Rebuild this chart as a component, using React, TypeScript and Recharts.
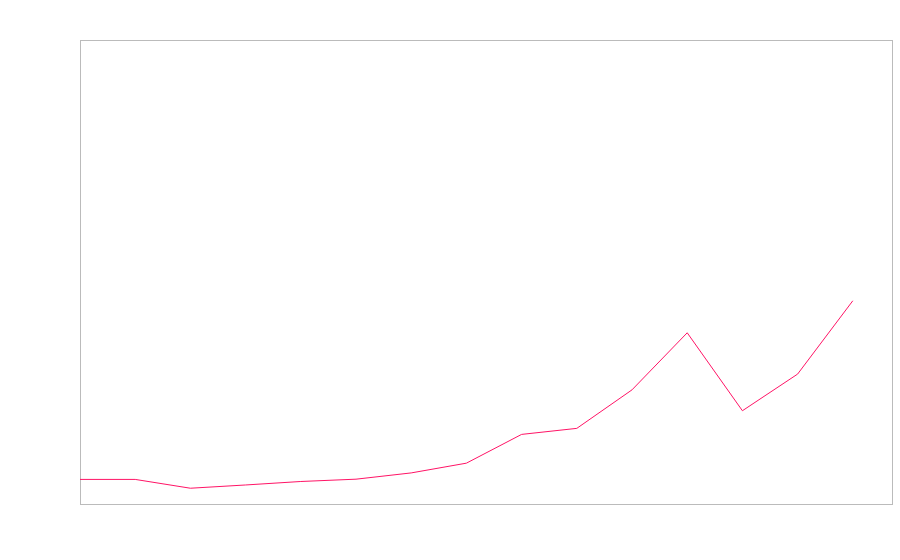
import { LineChart, Line, XAxis, YAxis, ReferenceArea } from 'recharts';

// x positions (periods) and the values
const periods = [1, 2, 3, 4, 5, 6, 7, 8, 9, 10, 11, 12, 13, 14, 15];
const values = [5.3, 5.3, 3.4, 4.1, 4.85, 5.35, 6.7, 8.8, 15.0, 16.3, 24.6, 36.9, 20.1, 28.0, 43.8];

const X_MAX = 15.71;
const Y_MAX = 100;

const data = periods.map((p, i) => ({ period: p, value: values[i] }));

// plot frame, nudged half a pixel so the 1px stroke lands on whole pixels
const Frame = (props: any) => {
  const { x, y, width, height } = props;
  return <rect x={x + 0.5} y={y + 0.5} width={width} height={height} fill="none" stroke="#bbbbbb" strokeWidth={1} />;
};

export default function App() {
  return (
    <div style={{ position: 'absolute', left: 0, top: 0 }}>
      <LineChart width={900} height={560} data={data} margin={{ top: 40, right: 8, bottom: 56, left: 80 }}>
        <XAxis dataKey="period" type="number" domain={[1, X_MAX]} hide />
        <YAxis type="number" domain={[0, Y_MAX]} hide />
        <ReferenceArea x1={1} x2={X_MAX} y1={0} y2={Y_MAX} shape={Frame} ifOverflow="visible" />
        <Line
          type="linear"
          dataKey="value"
          stroke="#ff1466"
          strokeWidth={1}
          dot={false}
          activeDot={false}
          isAnimationActive={false}
        />
      </LineChart>
    </div>
  );
}
